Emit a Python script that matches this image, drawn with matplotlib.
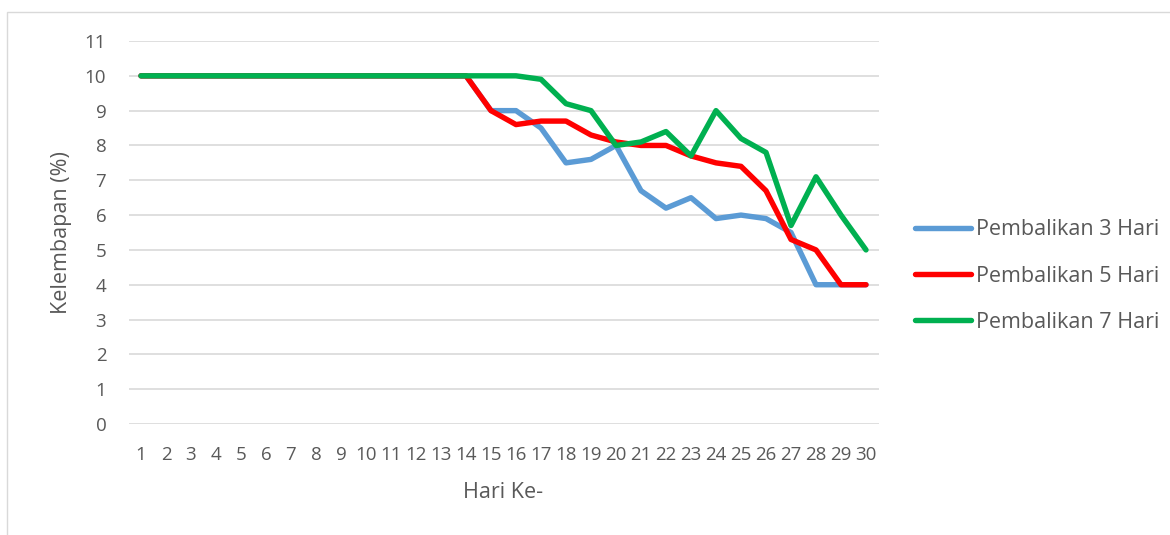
import matplotlib
matplotlib.use("Agg")
import matplotlib.pyplot as plt
from matplotlib.patches import Rectangle

days = list(range(1, 31))
day_labels = [str(d) for d in days]
series_names = ["Pembalikan 3 Hari", "Pembalikan 5 Hari", "Pembalikan 7 Hari"]
pembalikan_3 = [10]*14 + [9.0, 9.0, 8.5, 7.5, 7.6, 8.0, 6.7, 6.2, 6.5, 5.9, 6.0, 5.9, 5.5, 4.0, 4.0, 4.0]
pembalikan_5 = [10]*14 + [9.0, 8.6, 8.7, 8.7, 8.3, 8.1, 8.0, 8.0, 7.7, 7.5, 7.4, 6.7, 5.3, 5.0, 4.0, 4.0]
pembalikan_7 = [10]*16 + [9.9, 9.2, 9.0, 8.0, 8.1, 8.4, 7.7, 9.0, 8.2, 7.8, 5.7, 7.1, 6.0, 5.0]
y_ticks = list(range(0, 12))
colors = ["#5B9BD5", "#FF0000", "#00B050"]

plt.rcParams['font.family'] = ['Open Sans', 'DejaVu Sans']
txt = "#595959"
W, H = 1170, 535
fig = plt.figure(figsize=(W/100, H/100), dpi=100)

# outer chart border
fig.patches.append(Rectangle((7/W, -0.05), 1.2, (H-12)/H + 0.05, transform=fig.transFigure,
                             fill=False, edgecolor="#d9d9d9", lw=1.0))

ax = fig.add_axes([128.5/W, (H-424)/H, 750/W, 383/H])
for s, c, name in zip([pembalikan_3, pembalikan_5, pembalikan_7], colors, series_names):
    ax.plot(days, s, color=c, lw=3.9, solid_capstyle="round", solid_joinstyle="round", label=name)

ax.set_xlim(0.5, 30.5)
ax.set_ylim(0, 11)
ax.set_yticks(y_ticks)
ax.set_xticks(days)
ax.set_xticklabels(day_labels)
for sp in ax.spines.values():
    sp.set_visible(False)
ax.yaxis.grid(True, color="#d9d9d9", lw=1.2)
ax.set_axisbelow(True)
ax.tick_params(axis="both", length=0, colors=txt, labelsize=13.5)
ax.tick_params(axis="y", pad=16)
ax.tick_params(axis="x", pad=16)
ax.set_xlabel("Hari Ke-", color=txt, fontsize=15.5, labelpad=13)
ax.set_ylabel("Kelembapan (%)", color=txt, fontsize=15.5, labelpad=9)

leg = fig.legend(loc="center left", bbox_to_anchor=(915/W, (H-276)/H), frameon=False,
                 handlelength=2.6, handletextpad=0.25, labelspacing=1.17,
                 borderpad=0, borderaxespad=0, fontsize=15.5)
for t in leg.get_texts():
    t.set_color(txt)

fig.savefig("out.png", dpi=100)
